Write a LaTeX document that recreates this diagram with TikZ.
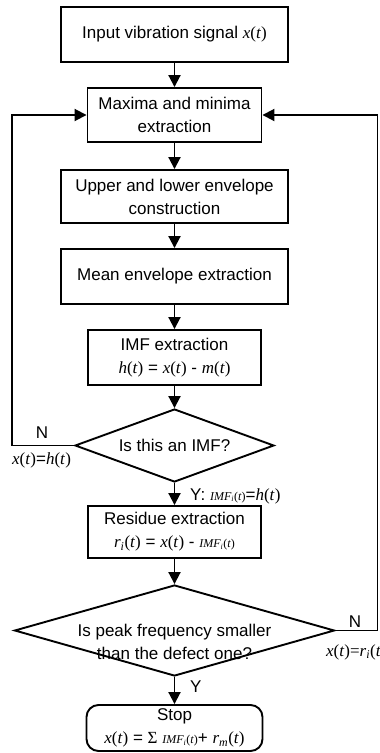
\documentclass[tikz,border=0pt]{standalone}
\usepackage{fontspec}
\setmainfont{Liberation Sans}
\newfontfamily\tms{Liberation Serif}
\usetikzlibrary{arrows.meta,shapes.geometric}
% function of t in Times italic
\newcommand{\ft}[1]{{\tms\itshape #1\/\upshape(\itshape t\/\upshape)}}
\newcommand{\fts}[2]{{\tms\itshape #1\textsubscript{#2}\upshape(\itshape t\/\upshape)}}
\newcommand{\imfi}{{\tms\itshape\fontsize{12}{12}\selectfont IMF\textsubscript{i}\upshape(\itshape t\/\upshape)}}
\begin{document}
\begin{tikzpicture}[x=1pt,y=-1pt,
  font=\fontsize{17}{23}\selectfont,
  box/.style={draw,line width=1.9pt,rectangle,inner sep=0pt,align=center},
  decision/.style={draw,line width=1.9pt,diamond,inner sep=0pt,aspect=2.7},
  stopbox/.style={draw,line width=1.9pt,rectangle,rounded corners=12pt,inner sep=0pt,align=center},
  flow/.style={line width=1.9pt,-{Triangle[length=12pt,width=12pt]}},
  lab/.style={inner sep=0pt}]
\useasboundingbox (0,0) rectangle (380,753);

%steps
\node[box,minimum width=227,minimum height=55] (input) at (174.5,34.5) {Input vibration signal \ft{x}};
\node[box,minimum width=174,minimum height=54] (maxmin) at (174.5,115) {Maxima and minima\\extraction};
\node[box,minimum width=227,minimum height=53] (envup) at (174.5,196.5) {Upper and lower envelope\\construction};
\node[box,minimum width=227,minimum height=55] (envmean) at (174.5,276.5) {Mean envelope extraction};
\node[box,minimum width=173,minimum height=55] (imf) at (174.5,357.5) {IMF extraction\\\ft{h} = \ft{x} - \ft{m}};

%decisions
\node[decision,minimum width=199,minimum height=73] (isimf) at (174.5,445.5) {Is this an IMF?};
\node[box,minimum width=173,minimum height=52] (residue) at (174.5,532) {Residue extraction\\\fts{r}{i} = \ft{x} - \imfi};
\node[decision,minimum width=320,minimum height=91,
  label={[align=center,yshift=-11pt]center:Is peak frequency smaller\\than the defect one?}] (peak) at (174.5,630.5) {};
\node[stopbox,minimum width=176,minimum height=46] (stop) at (174.5,728) {Stop\\\ft{x} = {\tms\upshape Σ} \imfi+ \fts{r}{m}};

%arrows
\draw[flow] (input) -- (maxmin);
\draw[flow] (maxmin) -- (envup);
\draw[flow] (envup) -- (envmean);
\draw[flow] (envmean) -- (imf);
\draw[flow] (imf) -- (isimf);
\draw[flow] (isimf) -- (residue);
\draw[flow] (residue) -- (peak);
\draw[flow] (peak) -- (stop);

%loops
\coordinate (lbend) at (12,445.5);
\coordinate (rbend) at (377.5,630.5);
\draw[flow] (isimf.west) -- (lbend) |- (maxmin.west);
\draw[flow] (peak.east) -- (rbend) |- (maxmin.east);

%labels
\node[lab] (nleft) at (42,433) {N};
\node[lab,anchor=west] (xhleft) at (12,460) {\ft{x}=\ft{h}};
\node[lab,anchor=west] (yimf) at (190,496) {Y: \imfi=\ft{h}};
\node[lab] (nright) at (355,622) {N};
\node[lab,anchor=west] (xrright) at (326,652) {{\tms\itshape x\/\upshape(\itshape t\/\upshape)=\itshape r\textsubscript{i}\upshape(\itshape t}};
\node[lab,anchor=west] (yend) at (190,687) {Y};
\end{tikzpicture}
\end{document}
